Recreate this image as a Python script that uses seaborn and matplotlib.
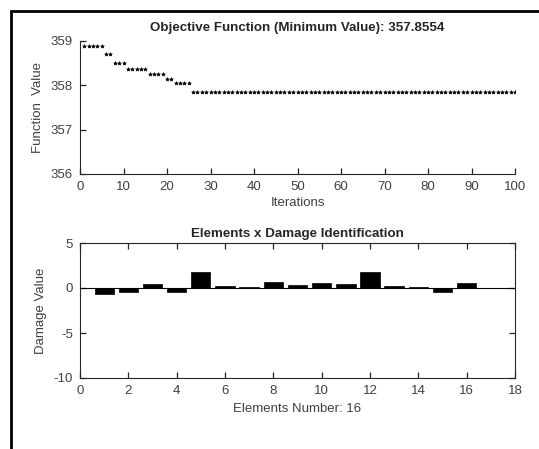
import matplotlib
matplotlib.use("Agg")
import matplotlib.pyplot as plt
from matplotlib import font_manager as fm
import seaborn as sns
import numpy as np
import pandas as pd
from matplotlib.patches import Rectangle

sns.set_style("ticks")
plt.rcParams['font.family'] = ['Liberation Sans', 'DejaVu Sans']
plt.rcParams['axes.unicode_minus'] = False
plt.rcParams['xtick.direction'] = 'in'
plt.rcParams['ytick.direction'] = 'in'

# pick the regular-width bold Liberation Sans file if available
bold_fp = None
for f in fm.fontManager.ttflist:
    if f.name == 'Liberation Sans' and 'Narrow' not in f.fname and \
            ('Bold' in f.fname and 'Italic' not in f.fname):
        bold_fp = fm.FontProperties(fname=f.fname)
        break
if bold_fp is None:
    bold_fp = fm.FontProperties(family='DejaVu Sans', weight='bold')

# Objective function values per iteration (1..100)
best_value = 357.8554
step_values = [358.88] * 5 + [358.71] * 2 + [358.50] * 3 + [358.36] * 5 + \
              [358.26] * 4 + [358.14] * 2 + [358.05] * 4
objective = step_values + [best_value] * (100 - len(step_values))
iterations = list(range(1, 101))

# Damage per element
elements = list(range(1, 17))
damage = [-0.7, -0.4, 0.5, -0.4, 1.8, 0.27, 0.15, 0.63,
          0.38, 0.6, 0.5, 1.8, 0.27, 0.1, -0.45, 0.6]

x_ticks_top = [0, 10, 20, 30, 40, 50, 60, 70, 80, 90, 100]
y_ticks_top = [356, 357, 358, 359]
x_ticks_bot = [0, 2, 4, 6, 8, 10, 12, 14, 16, 18]
y_ticks_bot = [-10, -5, 0, 5]

axcol = '#262626'
labcol = '#404040'

fig = plt.figure(figsize=(5.39, 4.49), dpi=100)
fig.patch.set_facecolor('white')

# outer border (extends beyond right/bottom edges)
fig.patches.append(Rectangle((11 / 539, -0.1), 1.2, (1 - 11 / 449) + 0.1,
                             transform=fig.transFigure, fill=False,
                             edgecolor='black', linewidth=2.0, zorder=0))

ax1 = fig.add_axes([80 / 539, 1 - 174 / 449, 435 / 539, 133 / 449])
ax2 = fig.add_axes([80 / 539, 1 - 378 / 449, 435 / 539, 135 / 449])

df1 = pd.DataFrame({'Iterations': iterations, 'Value': objective})
sns.scatterplot(data=df1, x='Iterations', y='Value', ax=ax1, marker='*',
                s=7, color='black', edgecolor='black', linewidth=0.5)
ax1.set_xlim(0, 100)
ax1.set_ylim(356, 359)
ax1.set_xticks(x_ticks_top)
ax1.set_yticks(y_ticks_top)
ax1.set_xlabel('Iterations', fontsize=9.5, color=labcol, labelpad=3)
ax1.set_ylabel('Function  Value', fontsize=9.5, color=labcol, labelpad=5)
t1 = ax1.set_title('Objective Function (Minimum Value): %.4f' % best_value,
                   pad=7)
t1.set_fontproperties(bold_fp)
t1.set_fontsize(9.6)
for s in ['top', 'right']:
    ax1.spines[s].set_visible(False)

df2 = pd.DataFrame({'Element': elements, 'Damage': damage})
sns.barplot(data=df2, x='Element', y='Damage', ax=ax2, native_scale=True,
            color='black', saturation=1, width=0.8, edgecolor='black',
            linewidth=0.5, errorbar=None)
ax2.axhline(0, color='black', linewidth=0.8, zorder=3)
ax2.set_xlim(0, 18)
ax2.set_ylim(-10, 5)
ax2.set_xticks(x_ticks_bot)
ax2.set_yticks(y_ticks_bot)
ax2.set_xlabel('Elements Number: %d' % len(elements), fontsize=9.5,
               color=labcol, labelpad=4)
ax2.set_ylabel('Damage Value', fontsize=9.5, color=labcol, labelpad=5)
t2 = ax2.set_title('Elements x Damage Identification', pad=4)
t2.set_fontproperties(bold_fp)
t2.set_fontsize(9.6)

for ax in (ax1, ax2):
    ax.set_facecolor('white')
    ax.tick_params(which='major', direction='in', length=4, width=0.9,
                   color=axcol, labelsize=9.5, labelcolor=labcol,
                   bottom=True, left=True,
                   top=(ax is ax2), right=(ax is ax2))
    ax.tick_params(axis='x', pad=5)
    ax.tick_params(axis='y', pad=5)
    for s in ax.spines.values():
        s.set_color(axcol)
        s.set_linewidth(0.8)
        s.set_visible(s.get_visible())

fig.savefig('out.png', dpi=100, facecolor='white')
